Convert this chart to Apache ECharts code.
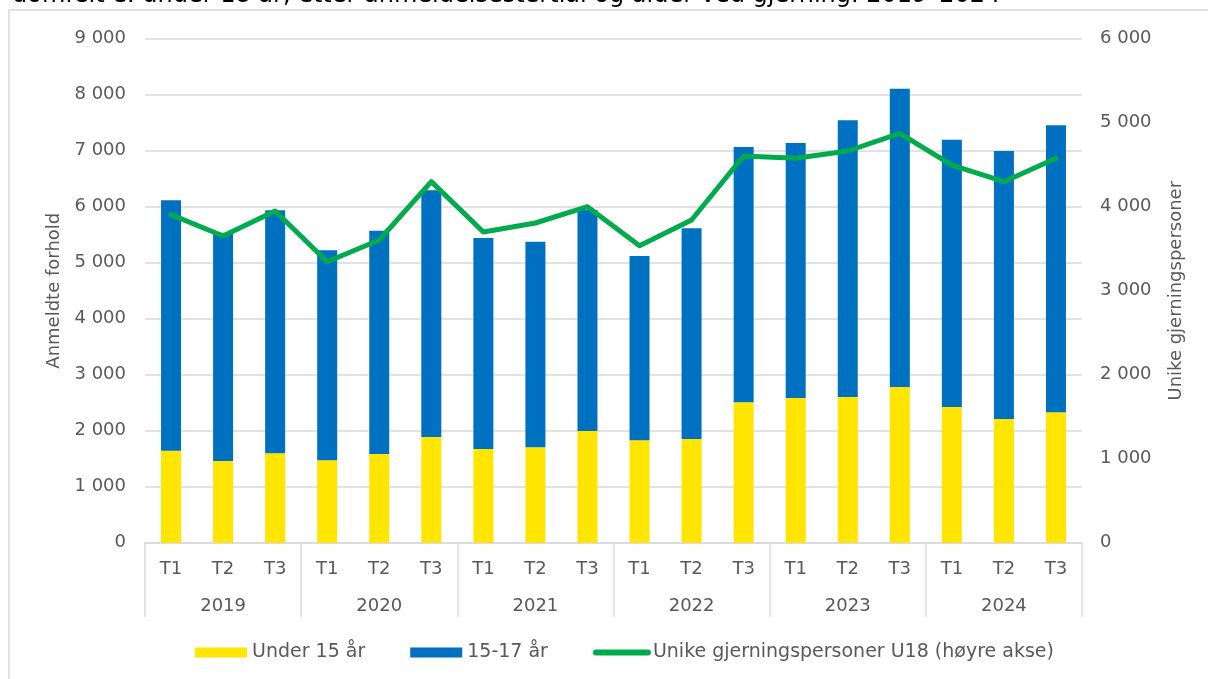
<!DOCTYPE html>
<html>
<head>
<meta charset="utf-8">
<script src="https://cdn.jsdelivr.net/npm/echarts@6/dist/echarts.min.js"></script>
<style>
  html, body { margin: 0; padding: 0; background: #fff; }
  #chart { width: 1208px; height: 679px; }
</style>
</head>
<body>
<div id="chart"></div>
<script>
// data
var years = ['2019', '2020', '2021', '2022', '2023', '2024'];
var periods = ['T1', 'T2', 'T3', 'T1', 'T2', 'T3', 'T1', 'T2', 'T3',
               'T1', 'T2', 'T3', 'T1', 'T2', 'T3', 'T1', 'T2', 'T3'];
var under15 = [1643, 1459, 1596, 1471, 1584, 1888, 1673, 1704, 1995,
               1828, 1852, 2507, 2584, 2602, 2780, 2423, 2209, 2329];
var age15to17 = [4471, 4077, 4340, 3750, 3987, 4405, 3768, 3671, 3946,
                 3292, 3762, 4559, 4554, 4941, 5327, 4773, 4785, 5124];
var uniquePersons = [3905, 3651, 3949, 3345, 3604, 4298, 3699, 3806, 4000,
                     3536, 3842, 4604, 4576, 4663, 4874, 4496, 4298, 4576];

var titleText = 'domfelt e. under 18 år, etter anmeldelsestertial og alder ved gjerning. 2019–2024';
var font = 'DejaVu Sans';
var textColor = '#595959';
var gridColor = '#d9d9d9';

function fmt(v) {
    return String(v).replace(/\B(?=(\d{3})+(?!\d))/g, ' ');
}

var ins = echarts.init(document.getElementById('chart'));

var option = {
    animation: false,
    textStyle: { fontFamily: font },
    graphic: [
        {
            type: 'rect',
            shape: { x: 9, y: 10, width: 1400, height: 900 },
            style: { fill: 'none', stroke: gridColor, lineWidth: 1.5 },
            silent: true
        },
        {
            type: 'text',
            x: 12,
            y: -4,
            style: {
                text: titleText,
                font: '24px "' + font + '"',
                fill: '#000',
                verticalAlign: 'middle'
            },
            silent: true
        }
    ],
    grid: { left: 145, right: 126, top: 38.7, bottom: 136.3 },
    legend: {
        left: 190,
        top: 638,
        itemWidth: 52,
        itemHeight: 10,
        itemGap: 45,
        textStyle: { color: textColor, fontSize: 19, fontFamily: font },
        data: [
            { name: 'Under 15 år', icon: 'rect' },
            { name: '15-17 år', icon: 'rect' },
            {
                name: 'Unike gjerningspersoner U18 (høyre akse)',
                itemStyle: { opacity: 0 },
                lineStyle: { width: 6, cap: 'round' }
            }
        ]
    },
    xAxis: [
        {
            type: 'category',
            data: periods,
            axisLine: { lineStyle: { color: gridColor, width: 1.5 } },
            axisTick: { show: false },
            axisLabel: { color: textColor, fontSize: 18, margin: 18, interval: 0 }
        },
        {
            type: 'category',
            data: years,
            position: 'bottom',
            axisLine: { show: false },
            axisTick: { show: true, length: 74, interval: 0, lineStyle: { color: gridColor, width: 1.5 } },
            axisLabel: { color: textColor, fontSize: 18, margin: 55, interval: 0 }
        }
    ],
    yAxis: [
        {
            type: 'value',
            min: 0,
            max: 9000,
            interval: 1000,
            name: 'Anmeldte forhold',
            nameLocation: 'middle',
            nameRotate: 90,
            nameGap: 82,
            nameTextStyle: { color: textColor, fontSize: 18 },
            axisLine: { show: false },
            axisTick: { show: false },
            splitLine: { lineStyle: { color: gridColor, width: 1.5 } },
            axisLabel: { color: textColor, fontSize: 18, margin: 19, formatter: fmt }
        },
        {
            type: 'value',
            min: 0,
            max: 6000,
            interval: 1000,
            position: 'right',
            name: 'Unike gjerningspersoner',
            nameLocation: 'middle',
            nameRotate: 90,
            nameGap: 85,
            nameTextStyle: { color: textColor, fontSize: 18 },
            axisLine: { show: false },
            axisTick: { show: false },
            splitLine: { show: false },
            axisLabel: { color: textColor, fontSize: 18, margin: 18, formatter: fmt }
        }
    ],
    series: [
        {
            name: 'Under 15 år',
            type: 'bar',
            stack: 'total',
            barWidth: 20,
            itemStyle: { color: '#FFE500' },
            data: under15
        },
        {
            name: '15-17 år',
            type: 'bar',
            stack: 'total',
            barWidth: 20,
            itemStyle: { color: '#0070C0' },
            data: age15to17
        },
        {
            name: 'Unike gjerningspersoner U18 (høyre akse)',
            type: 'line',
            yAxisIndex: 1,
            symbol: 'none',
            lineStyle: { color: '#00AB4E', width: 5, cap: 'round', join: 'round' },
            itemStyle: { color: '#00AB4E' },
            data: uniquePersons
        }
    ]
};

ins.setOption(option);
</script>
</body>
</html>
